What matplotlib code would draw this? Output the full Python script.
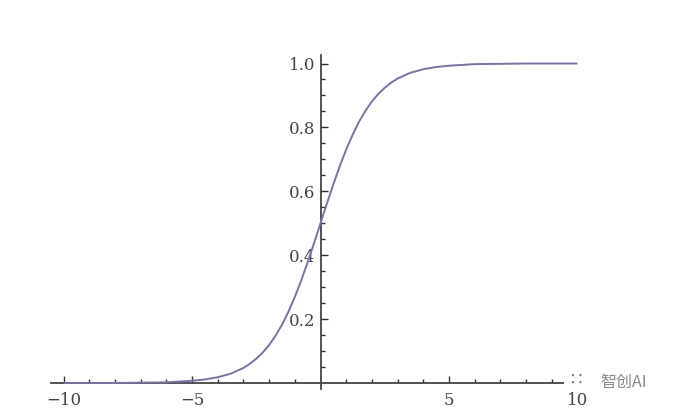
from matplotlib import pyplot as plt

# curve
xVals = [-10, -9, -8, -7, -6, -5, -4.5, -4, -3.5, -3, -2.75, -2.5, -2.25, -2, -1.75, -1.5, -1.25, -1, -0.75, -0.5, -0.25,
         0, 0.25, 0.5, 0.75, 1, 1.25, 1.5, 1.75, 2, 2.25, 2.5, 2.75, 3, 3.5, 4, 4.5, 5, 6, 7, 8, 9, 10]
yVals = [0.0, 0.0, 0.0, 0.001, 0.002, 0.007, 0.011, 0.018, 0.029, 0.047, 0.06, 0.076, 0.095, 0.119, 0.148, 0.182, 0.223,
         0.269, 0.321, 0.378, 0.438, 0.5, 0.562, 0.622, 0.679, 0.731, 0.777, 0.818, 0.852, 0.881, 0.905, 0.924, 0.94,
         0.953, 0.971, 0.982, 0.989, 0.993, 0.998, 0.999, 1.0, 1.0, 1.0]

xMajor = [-10, -5, 5, 10]
xLabels = ["\u221210", "\u22125", "5", "10"]
yMajor = [0.2, 0.4, 0.6, 0.8, 1.0]
yLabels = ["0.2", "0.4", "0.6", "0.8", "1.0"]
xMinor = [-9, -8, -7, -6, -4, -3, -2, -1, 1, 2, 3, 4, 6, 7, 8, 9]
yMinor = [0.05, 0.1, 0.15, 0.25, 0.3, 0.35, 0.45, 0.5, 0.55, 0.65, 0.7, 0.75, 0.85, 0.9, 0.95]

plt.rcParams['font.family'] = ['DejaVu Serif']
W, H = 674, 417
fig = plt.figure(figsize=(W / 100, H / 100), dpi=100)

# 25.7 px per x unit, 319.5 px per y unit, origin at pixel (320.5, 383)
ax = fig.add_axes([40 / W, (H - 389) / H, 560 / W, 334 / H])
ax.set_xlim((40 - 320.5) / 25.7, (600 - 320.5) / 25.7)
ax.set_ylim(-6 / 319.5, 328 / 319.5)

ax.plot(xVals, yVals, color="#7572ae", lw=1.4, solid_capstyle="butt", clip_on=False, zorder=3)

for side in ["top", "right"]:
    ax.spines[side].set_visible(False)
ax.spines["left"].set_position(("data", 0))
ax.spines["bottom"].set_position(("data", 0))
ax.spines["left"].set_color("#333333")
ax.spines["bottom"].set_color("#444444")
ax.spines["left"].set_linewidth(1.2)
ax.spines["bottom"].set_linewidth(1.3)
ax.spines["bottom"].set_bounds((51 - 320.5) / 25.7, (563 - 320.5) / 25.7)

ax.set_xticks(xMajor)
ax.set_xticklabels(xLabels)
ax.set_yticks(yMajor)
ax.set_yticklabels(yLabels)
ax.set_xticks(xMinor, minor=True)
ax.set_yticks(yMinor, minor=True)
ax.tick_params(axis="x", which="major", direction="in", length=5, width=1, color="#333333",
               labelsize=12, labelcolor="#444444", pad=6.5)
ax.tick_params(axis="x", which="minor", direction="in", length=3, width=1, color="#333333")
ax.tick_params(axis="y", which="major", direction="in", length=5, width=1, color="#333333",
               labelsize=12, labelcolor="#444444", pad=3.5)
ax.tick_params(axis="y", which="minor", direction="in", length=3, width=1, color="#333333")

# tick at 10 is hidden under the watermark in the picture
ax.xaxis.get_major_ticks()[3].tick1line.set_visible(False)

# watermark
fig.text(600 / W, (H - 382) / H, "\u667a\u521bAI", fontsize=11.5, color="#8a8a8a", va="center", ha="left",
         family=["Noto Sans CJK SC", "DejaVu Sans"])
fig.text(577 / W, (H - 380) / H, "\u2237", fontsize=13, color="#777777", va="center", ha="center",
         family=["DejaVu Sans"])

fig.savefig("out.png", dpi=100)
